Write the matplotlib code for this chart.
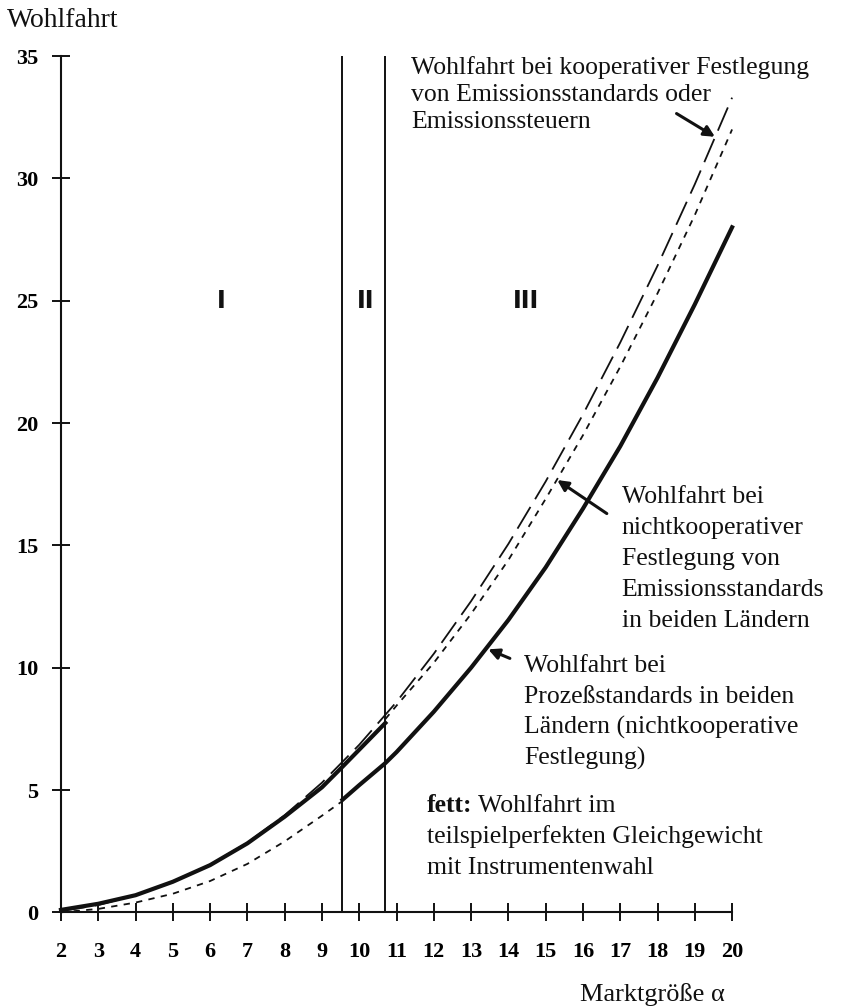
import numpy as np
import matplotlib.pyplot as plt

plt.rcParams['font.family'] = ['Liberation Serif', 'DejaVu Serif']

# Marktgroesse alpha und Wohlfahrt
x_koop = [2, 3, 4, 5, 6, 7, 8, 9, 10, 11, 12, 13, 14, 15, 16, 17, 18, 19, 20]
w_koop = [0.05, 0.3, 0.7, 1.25, 1.95, 2.85, 3.97, 5.3, 6.85, 8.6, 10.57, 12.72,
          15.06, 17.61, 20.35, 23.29, 26.43, 29.76, 33.3]

# Emissionsstandards (nichtkooperativ): fett in I und II, danach gepunktet
x_emis_fett = [2, 3, 4, 5, 6, 7, 8, 9, 9.55, 10, 10.7]
w_emis_fett = [0.1, 0.35, 0.7, 1.25, 1.93, 2.82, 3.91, 5.11, 5.95, 6.65, 7.74]
x_emis_dot = [10.7, 11, 12, 13, 14, 15, 16, 17, 18, 19, 20]
w_emis_dot = [7.9, 8.45, 10.2, 12.2, 14.4, 16.9, 19.5, 22.3, 25.3, 28.5, 32.0]

# Prozessstandards: gepunktet in I, fett in II und III
x_proz_dot = [2, 3, 4, 5, 6, 7, 8, 9, 9.55]
w_proz_dot = [0.0, 0.14, 0.4, 0.76, 1.28, 1.98, 2.9, 3.95, 4.55]
x_proz_fett = [9.55, 10, 10.7, 11, 12, 13, 14, 15, 16, 17, 18, 19, 20]
w_proz_fett = [4.6, 5.2, 6.1, 6.55, 8.2, 10.0, 11.95, 14.1, 16.5, 19.05, 21.85, 24.85, 28.0]

grenzen = [9.55, 10.7]
regionen = ['I', 'II', 'III']
x_ticks = list(range(2, 21))
y_ticks = list(range(0, 36, 5))

ink = '#111111'
fs = 18.5

fig = plt.figure(figsize=(8.41, 10.08), dpi=100)
ax = fig.add_axes([0.0725, 0.0949, 0.798, 0.8495])
ax.set_xlim(2, 20)
ax.set_ylim(0, 35)
for s in ['top', 'right']:
    ax.spines[s].set_visible(False)
for s in ['left', 'bottom']:
    ax.spines[s].set_linewidth(1.5)
    ax.spines[s].set_color(ink)

ax.set_xticks(x_ticks)
ax.set_yticks(y_ticks)
ax.tick_params(direction='inout', length=13, width=1.4, color=ink, labelsize=16)
ax.tick_params(axis='y', pad=10)
ax.tick_params(axis='x', pad=15)
for lab in ax.get_xticklabels() + ax.get_yticklabels():
    lab.set_fontweight('bold')

ax.vlines(grenzen, 0, 35, color=ink, lw=1.4, clip_on=False)

ax.plot(x_koop, w_koop, color=ink, lw=1.3, dashes=(14, 5), clip_on=False)
ax.plot(x_emis_dot, w_emis_dot, color=ink, lw=1.3, dashes=(3.5, 3.5), clip_on=False)
ax.plot(x_proz_dot, w_proz_dot, color=ink, lw=1.3, dashes=(3.5, 3.5), clip_on=False)
ax.plot(x_emis_fett, w_emis_fett, color=ink, lw=3, clip_on=False)
ax.plot(x_proz_fett, w_proz_fett, color=ink, lw=3, clip_on=False)

for xr, r in zip([6.31, 10.18, 14.47], regionen):
    ax.text(xr, 25, r, ha='center', va='center', fontsize=17,
            fontweight='bold', family='DejaVu Sans', color=ink)


# mehrzeiliger Text, jede Zeile auf eigener Grundlinie
def zeilen(x, ys, lines):
    for y, s in zip(ys, lines):
        ax.text(x, y, s, ha='left', va='baseline', fontsize=fs, color=ink)


zeilen(11.39, [34.26, 33.16, 32.05],
       ['Wohlfahrt bei kooperativer Festlegung', 'von Emissionsstandards oder',
        'Emissionssteuern'])
zeilen(17.04, [16.73, 15.46, 14.19, 12.93, 11.66],
       ['Wohlfahrt bei', 'nichtkooperativer', 'Festlegung von',
        'Emissionsstandards', 'in beiden Ländern'])
zeilen(14.42, [9.82, 8.56, 7.29, 6.02],
       ['Wohlfahrt bei', 'Prozeßstandards in beiden',
        'Ländern (nichtkooperative', 'Festlegung)'])
t = ax.text(11.81, 4.11, 'fett:', ha='left', va='baseline', fontsize=fs,
            fontweight='bold', color=ink)
ax.annotate(' Wohlfahrt im', xy=(1, 0), xycoords=t, ha='left', va='bottom',
            fontsize=fs, color=ink)
zeilen(11.81, [2.84, 1.57], ['teilspielperfekten Gleichgewicht', 'mit Instrumentenwahl'])

arrow = dict(arrowstyle='-|>', lw=2.2, color=ink, mutation_scale=16, shrinkA=0, shrinkB=0)
ax.annotate('', xy=(19.54, 31.7), xytext=(18.51, 32.65), arrowprops=arrow)
ax.annotate('', xy=(15.31, 17.67), xytext=(16.64, 16.3), arrowprops=arrow)
ax.annotate('', xy=(13.46, 10.75), xytext=(14.04, 10.38), arrowprops=arrow)

fig.text(7 / 841, 1 - 27 / 1008, 'Wohlfahrt', ha='left', va='baseline', fontsize=20, color=ink)
fig.text(580 / 841, 7 / 1008, 'Marktgröße α', ha='left', va='baseline', fontsize=19, color=ink)

fig.savefig('out.png', dpi=100, facecolor='white')
